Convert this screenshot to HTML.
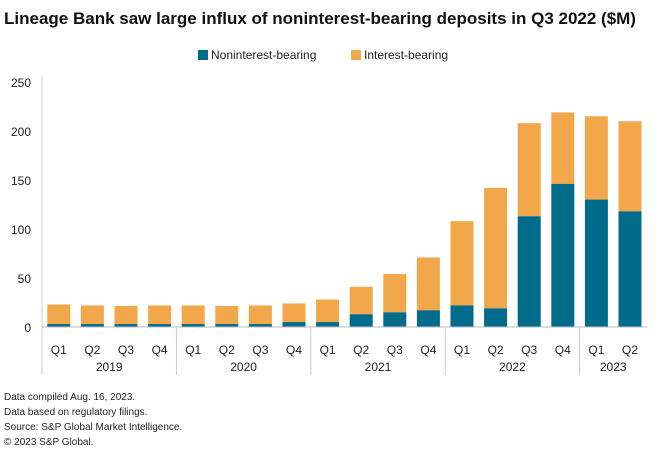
<!DOCTYPE html>
<html><head><meta charset="utf-8"><style>
body{margin:0;background:#fff;font-family:"Liberation Sans",sans-serif;}
svg text{font-family:"Liberation Sans",sans-serif;}
</style></head><body>
<svg width="660" height="460">
<text x="4" y="24" font-size="17" font-weight="bold" fill="#111">Lineage Bank saw large influx of noninterest-bearing deposits in Q3 2022 ($M)</text>
<g>
<rect x="198" y="50" width="10" height="10" fill="#006b8a"/>
<text x="211" y="59" font-size="12" fill="#222">Noninterest-bearing</text>
<rect x="351" y="50" width="10" height="10" fill="#f2a74b"/>
<text x="364" y="59" font-size="12" fill="#222">Interest-bearing</text>
</g>
<g id="plot"></g>
<g font-size="10" fill="#222">
<text x="4" y="400">Data compiled Aug. 16, 2023.</text>
<text x="4" y="415">Data based on regulatory filings.</text>
<text x="4" y="430">Source: S&amp;P Global Market Intelligence.</text>
<text x="4" y="445">© 2023 S&amp;P Global.</text>
</g>
</svg>
<script>
const quarters=["Q1","Q2","Q3","Q4","Q1","Q2","Q3","Q4","Q1","Q2","Q3","Q4","Q1","Q2","Q3","Q4","Q1","Q2"];
const years=["2019","2020","2021","2022","2023"];
const yearCounts=[4,4,4,4,2];
const nonInterest=[3,3,3,3,3,3,3,5,5,13,15,17,22,19,113,146,130,118];
const totals=[23,22,21.5,22,22,21.5,22,24,28,41,54,71,108,142,208,219,215,210];
const yTicks=[0,50,100,150,200,250];
const NS="http://www.w3.org/2000/svg";
const g=document.getElementById('plot');
const x0=42,step=33.6,bw=23,y0=327,yTop=82,yMax=250;
const y=v=>y0-(v/yMax)*(y0-yTop);
const xc=i=>x0+step*(i+0.5);
function mk(t,a,p){const e=document.createElementNS(NS,t);for(const k in a)e.setAttribute(k,a[k]);(p||g).appendChild(e);return e;}
yTicks.forEach(t=>{
 const e=mk('text',{x:31,y:y(t)+5,'font-size':12,fill:'#222','text-anchor':'end'});
 
 
 e.textContent=t;
});
mk('line',{x1:x0,y1:yTop-6,x2:x0,y2:375,stroke:'#ccc'});
quarters.forEach((q,i)=>{
 const ni=nonInterest[i],tot=totals[i];
 const r1=mk('rect',{x:xc(i)-bw/2,y:y(tot),width:bw,height:y(ni)-y(tot),fill:'#f2a74b'});
 
 
 const r2=mk('rect',{x:xc(i)-bw/2,y:y(ni),width:bw,height:y0-y(ni),fill:'#006b8a'});
 
 
 const t=mk('text',{x:xc(i),y:354,'font-size':12,fill:'#222','text-anchor':'middle'});
 
 
 t.textContent=q;
});
mk('line',{x1:x0,y1:y0,x2:x0+step*quarters.length,y2:y0,stroke:'#bbb'});
let s=0;
years.forEach((yr,k)=>{
 const n=yearCounts[k];
 const t=mk('text',{x:x0+step*(s+n/2),y:371,'font-size':12,fill:'#222','text-anchor':'middle'});
 
 
 t.textContent=yr;
 s+=n;
 if(k<years.length-1) mk('line',{x1:x0+step*s,y1:y0,x2:x0+step*s,y2:375,stroke:'#ccc'});
});
</script>
</body></html>
